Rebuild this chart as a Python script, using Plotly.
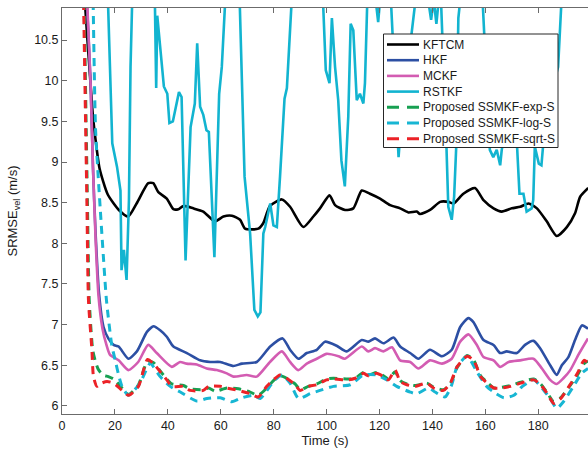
import plotly.graph_objects as go

# ---- KFTCM ----
t_kftcm = [8.0, 8.8, 10.5, 11.6, 12.7, 14.2, 17.3, 21.5, 25.0, 28.2, 32.6, 34.5, 36.4, 39.6,
           42.1, 44.0, 45.9, 49.6, 53.4, 57.8, 61.0, 64.2, 67.3, 69.2, 74.2, 76.1, 78.6, 83.1,
           86.2, 91.2, 95.0, 97.5, 101.1, 103.2, 107.0, 110.1, 113.3, 116.4, 120.2, 124.0,
           127.8, 130.9, 134.1, 135.3, 139.1, 142.9, 146.1, 148.0, 151.7, 156.1, 159.3, 163.1,
           166.2, 170.0, 173.2, 176.3, 179.5, 183.2, 187.0, 190.8, 193.9, 195.8, 198.9]
v_kftcm = [11.6, 10.9, 10.1, 9.6, 9.27, 8.92, 8.60, 8.41, 8.33, 8.49, 8.74, 8.74, 8.63, 8.55,
           8.42, 8.42, 8.46, 8.43, 8.39, 8.27, 8.33, 8.34, 8.29, 8.18, 8.18, 8.25, 8.46, 8.54,
           8.45, 8.20, 8.33, 8.43, 8.59, 8.47, 8.41, 8.43, 8.65, 8.61, 8.55, 8.47,
           8.43, 8.38, 8.39, 8.36, 8.41, 8.51, 8.51, 8.49, 8.61, 8.68, 8.53, 8.43,
           8.39, 8.43, 8.45, 8.49, 8.43, 8.27, 8.09, 8.20, 8.37, 8.57, 8.68]

# ---- HKF ----
t_hkf = [8.5, 9.5, 10.8, 11.7, 12.7, 14.0, 15.7, 17.5, 19.5, 21.4, 25.1, 28.3, 32.1, 34.6,
         37.1, 39.6, 42.1, 47.2, 52.2, 56.0, 59.8, 64.8, 68.0, 73.6, 78.7, 83.4, 86.2, 89.4,
         92.5, 96.3, 99.4, 103.8, 107.6, 113.3, 115.8, 118.3, 121.5, 125.3, 127.8, 131.6,
         134.7, 139.1, 143.6, 147.3, 150.5, 153.6, 155.5, 159.3, 163.1, 165.6, 168.1, 171.9,
         175.0, 178.2, 180.7, 184.5, 187.0, 188.9, 191.4, 193.9, 196.5, 198.8]
v_hkf = [11.8, 10.9, 9.97, 8.94, 8.12, 7.38, 6.97, 6.83, 6.75, 6.73, 6.58, 6.67, 6.91, 6.98,
         6.93, 6.85, 6.73, 6.65, 6.56, 6.54, 6.54, 6.49, 6.52, 6.54, 6.73, 6.83, 6.69, 6.58,
         6.65, 6.69, 6.79, 6.74, 6.67, 6.81, 6.79, 6.83, 6.77, 6.84, 6.73, 6.65,
         6.58, 6.69, 6.61, 6.69, 6.97, 7.08, 7.03, 6.81, 6.75, 6.65, 6.67, 6.65,
         6.75, 6.80, 6.71, 6.50, 6.38, 6.50, 6.60, 6.81, 6.99, 6.95]

# ---- MCKF ----
t_mckf = [8.5, 9.6, 10.8, 11.7, 12.7, 13.8, 15.3, 16.8, 18.1, 21.4, 25.1, 28.8, 32.6, 35.8,
          41.5, 44.6, 47.1, 50.9, 54.7, 58.5, 62.3, 64.8, 69.8, 73.6, 78.6, 83.1, 86.2, 89.3,
          92.5, 96.3, 100.0, 104.5, 106.9, 113.3, 115.8, 118.3, 121.5, 124.7, 127.8, 131.6,
          134.7, 139.1, 143.6, 147.3, 150.5, 153.6, 156.8, 159.3, 163.1, 165.6, 168.8, 173.2,
          178.2, 181.4, 184.5, 187.0, 189.5, 192.1, 195.2, 198.8]
v_mckf = [11.8, 10.9, 9.97, 8.94, 8.05, 7.35, 6.95, 6.75, 6.63, 6.56, 6.44, 6.54, 6.75, 6.65,
          6.48, 6.54, 6.52, 6.51, 6.46, 6.44, 6.40, 6.36, 6.38, 6.36, 6.54, 6.67, 6.54, 6.44,
          6.52, 6.58, 6.64, 6.61, 6.58, 6.73, 6.67, 6.71, 6.67, 6.72, 6.56, 6.54,
          6.46, 6.56, 6.52, 6.58, 6.79, 6.88, 6.75, 6.60, 6.56, 6.48, 6.54, 6.56,
          6.58, 6.46, 6.32, 6.27, 6.34, 6.44, 6.63, 6.83]

# ---- RSTKF ----
t_rstkf = [16.8, 19.0, 20.8, 22.1, 22.5, 23.4, 24.4, 25.3, 25.9, 27.0, 29.0, 32.0, 35.0, 35.6,
           36.0, 38.5, 39.8, 40.6, 41.9, 44.2, 45.2, 46.7, 48.6, 50.2, 51.1, 52.2, 53.4, 54.6,
           55.5, 57.6, 59.4, 60.4, 62.5, 64.0, 66.8, 69.0, 71.1, 72.7, 74.0, 75.0, 76.1, 76.8,
           78.7, 79.9, 81.2, 82.4, 84.1, 85.0, 87.5, 90.0, 95.0, 98.5, 99.7, 101.1, 102.0,
           103.2, 104.4, 105.6, 106.9, 108.2, 109.1, 110.1, 111.4, 112.6, 113.9, 114.5, 115.4,
           117.5, 119.5, 121.0, 124.0, 127.2, 128.2, 134.0, 137.0, 139.5, 140.5, 141.5, 143.0,
           145.3, 146.0, 147.3, 148.2, 149.0, 149.8, 151.5, 155.0, 158.5, 161.7, 163.0, 164.3,
           165.6, 166.2, 169.0, 172.0, 172.9, 174.4, 175.6, 177.5, 178.1, 178.7, 180.2, 181.2,
           181.8, 184.5, 187.5, 188.8, 192.0, 199.0]
v_rstkf = [11.6, 9.23, 8.94, 8.65, 7.67, 7.92, 7.55, 8.53, 10.17, 11.6, 11.8, 11.5, 11.2, 9.91,
           10.8, 9.93, 9.84, 9.48, 9.50, 9.86, 9.80, 7.79, 9.43, 9.72, 10.46, 9.68, 9.58, 9.39,
           9.37, 7.83, 9.84, 10.17, 11.5, 11.6, 11.4, 8.82, 8.12, 7.18, 7.10, 7.15, 8.12, 8.20,
           8.49, 8.22, 8.20, 8.82, 9.78, 9.91, 11.4, 11.6, 11.4, 11.1, 10.13, 9.97, 10.77,
           10.17, 9.76, 9.02, 8.70, 9.56, 10.70, 10.62, 9.76, 9.84, 9.72, 9.97, 11.0,
           11.3, 10.72, 11.3, 11.2, 9.06, 9.5, 11.1, 11.3, 10.75, 11.0, 10.7, 11.2,
           9.19, 8.45, 8.29, 8.57, 9.19, 10.77, 11.3, 11.6, 11.3, 9.15, 9.06, 9.15,
           8.96, 9.15, 9.6, 9.19, 8.61, 8.61, 8.39, 8.43, 8.53, 9.19, 8.98, 8.96,
           9.19, 9.8, 10.17, 11.0, 11.5, 11.8]

# ---- Proposed SSMKF-exp-S ----
t_exp = [7.9, 8.4, 9.6, 10.3, 11.6, 12.6, 13.7, 15.5, 17.5, 19.5, 22.7, 25.2, 28.9, 32.3,
         34.6, 37.1, 39.6, 41.5, 45.9, 48.4, 53.4, 55.4, 57.9, 62.3, 66.7, 71.1, 74.2, 77.4,
         79.9, 82.4, 84.9, 88.1, 90.0, 93.1, 96.3, 100.0, 102.6, 108.2, 110.8, 113.9, 115.8,
         118.9, 121.5, 123.4, 125.9, 127.8, 130.3, 133.5, 137.9, 140.4, 144.2, 146.8, 149.3,
         153.1, 155.6, 158.2, 160.7, 163.2, 166.4, 169.5, 173.3, 178.3, 180.9, 183.4, 185.9,
         188.5, 191.6, 194.8, 197.3, 198.8]
v_exp = [12.0, 10.9, 8.53, 7.30, 6.69, 6.55, 6.45, 6.38, 6.36, 6.33, 6.22, 6.14, 6.26, 6.55,
         6.53, 6.43, 6.33, 6.27, 6.25, 6.21, 6.20, 6.22, 6.18, 6.22, 6.21, 6.17, 6.13, 6.22,
         6.31, 6.37, 6.34, 6.27, 6.20, 6.24, 6.27, 6.33, 6.34, 6.33, 6.34, 6.41, 6.38,
         6.41, 6.37, 6.33, 6.42, 6.31, 6.27, 6.25, 6.28, 6.23, 6.20, 6.27, 6.47,
         6.62, 6.56, 6.37, 6.29, 6.22, 6.23, 6.25, 6.29, 6.33, 6.27, 6.16, 6.05,
         6.10, 6.23, 6.38, 6.52, 6.55]

# ---- Proposed SSMKF-log-S ----
t_log = [11.3, 11.8, 12.7, 14.5, 15.9, 16.8, 18.8, 20.2, 21.4, 22.7, 25.1, 29.5, 33.3, 37.1,
         40.9, 44.7, 51.0, 54.8, 59.8, 64.2, 68.0, 72.4, 74.9, 79.9, 83.1, 86.2, 89.4, 93.8,
         97.5, 102.6, 109.0, 113.9, 118.9, 122.8, 126.5, 131.6, 134.1, 138.6, 141.0, 144.8,
         147.3, 149.3, 153.1, 156.8, 160.5, 163.2, 167.0, 170.8, 174.0, 178.3, 181.4, 184.5,
         187.0, 189.5, 193.3, 196.4, 198.8]
v_log = [12.0, 10.9, 9.39, 8.40, 7.71, 7.30, 6.75, 6.55, 6.38, 6.24, 6.13, 6.28, 6.52, 6.36,
         6.24, 6.17, 6.06, 6.09, 6.10, 6.05, 6.10, 6.13, 6.09, 6.30, 6.38, 6.28, 6.09, 6.15,
         6.19, 6.24, 6.26, 6.38, 6.38, 6.32, 6.24, 6.17, 6.15, 6.22, 6.17, 6.11,
         6.26, 6.48, 6.61, 6.42, 6.24, 6.17, 6.10, 6.13, 6.24, 6.32, 6.22, 6.09,
         5.97, 6.05, 6.24, 6.40, 6.46]

# ---- Proposed SSMKF-sqrt-S ----
t_sqrt = [7.8, 8.2, 9.4, 10.0, 11.3, 11.9, 13.2, 15.0, 17.0, 19.5, 22.7, 25.2, 28.9, 32.3,
          34.6, 37.1, 39.6, 41.5, 45.9, 48.4, 53.4, 55.4, 59.8, 62.3, 66.7, 71.1, 74.2, 77.4,
          79.9, 82.4, 84.9, 88.1, 90.0, 93.1, 96.3, 100.0, 102.6, 108.2, 110.8, 113.9, 115.8,
          118.9, 121.5, 123.4, 125.9, 127.8, 130.3, 133.5, 137.9, 140.4, 144.2, 146.8, 149.3,
          153.1, 155.6, 158.2, 160.7, 163.2, 166.4, 169.5, 173.3, 178.3, 180.9, 183.4, 185.9,
          188.5, 191.6, 194.8, 197.3, 198.8]
v_sqrt = [12.0, 10.9, 8.53, 7.30, 6.69, 6.36, 6.24, 6.28, 6.30, 6.28, 6.19, 6.13, 6.24, 6.57,
          6.52, 6.42, 6.32, 6.24, 6.24, 6.19, 6.19, 6.24, 6.24, 6.22, 6.19, 6.15, 6.11, 6.24,
          6.32, 6.38, 6.34, 6.26, 6.19, 6.24, 6.26, 6.32, 6.33, 6.32, 6.34, 6.40, 6.37,
          6.40, 6.36, 6.32, 6.44, 6.30, 6.26, 6.24, 6.28, 6.22, 6.19, 6.28, 6.48,
          6.61, 6.56, 6.36, 6.28, 6.22, 6.22, 6.24, 6.28, 6.32, 6.26, 6.15, 6.03,
          6.09, 6.24, 6.40, 6.56, 6.53]

x_ticks = [0, 20, 40, 60, 80, 100, 120, 140, 160, 180]
y_ticks = [6, 6.5, 7, 7.5, 8, 8.5, 9, 9.5, 10, 10.5]
y_tick_text = ["6", "6.5", "7", "7.5", "8", "8.5", "9", "9.5", "10", "10.5"]

FONT = "Liberation Sans, Arial, sans-serif"
AXIS_GREY = "#6b6b6b"
TEXT = "#1a1a1a"

series = [
    ("KFTCM", t_kftcm, v_kftcm, "#000000", "solid", 2.6, "spline"),
    ("HKF", t_hkf, v_hkf, "#2c4fa3", "solid", 2.6, "spline"),
    ("MCKF", t_mckf, v_mckf, "#d35cb2", "solid", 2.6, "spline"),
    ("RSTKF", t_rstkf, v_rstkf, "#12b4d0", "solid", 2.6, "linear"),
    ("Proposed SSMKF-exp-S", t_exp, v_exp, "#17a052", "8px,6px", 3, "spline"),
    ("Proposed SSMKF-log-S", t_log, v_log, "#17b6d3", "8px,6px", 3, "spline"),
    ("Proposed SSMKF-sqrt-S", t_sqrt, v_sqrt, "#ec2227", "8px,6px", 3, "spline"),
]

fig = go.Figure()
for name, t, v, color, dash, width, shape in series:
    line = dict(color=color, width=width, dash=dash, shape=shape)
    if shape == "spline":
        line["smoothing"] = 0.6
    fig.add_trace(go.Scatter(x=t, y=v, mode="lines", name=name, line=line, showlegend=False))

# Compact boxed legend in the upper right of the axes (paper coordinates)
W, H, L, B = 526.0, 406.0, 62.0, 40.0
def px_x(px):
    return (px - L) / W
def px_y(py):
    return (454.0 - B - py) / H

box_l, box_r, box_t, box_b = 383.5, 558.0, 34.0, 147.5
row0, row_step = 44.5, 15.7
shapes = [dict(type="rect", xref="paper", yref="paper",
               x0=px_x(box_l), x1=px_x(box_r), y0=px_y(box_b), y1=px_y(box_t),
               line=dict(color="#262626", width=1), fillcolor="white", layer="above")]
annotations = []
for i, (name, t, v, color, dash, width, shape) in enumerate(series):
    yc = px_y(row0 + i * row_step)
    shapes.append(dict(type="line", xref="paper", yref="paper",
                       x0=px_x(387), x1=px_x(419), y0=yc, y1=yc, layer="above",
                       line=dict(color=color, width=width,
                                 dash="solid" if dash == "solid" else "12px,8px")))
    annotations.append(dict(xref="paper", yref="paper", x=px_x(421), y=yc,
                            xanchor="left", yanchor="middle", showarrow=False,
                            text=name, font=dict(family=FONT, size=12, color=TEXT)))

fig.update_layout(
    width=588,
    height=454,
    margin=dict(l=62, r=0, t=8, b=40),
    paper_bgcolor="white",
    plot_bgcolor="white",
    font=dict(family=FONT, size=13, color=TEXT),
    showlegend=False,
    shapes=shapes,
    annotations=annotations,
    xaxis=dict(
        range=[0, 198.8],
        tickvals=x_ticks,
        ticks="inside", ticklen=5, tickcolor=AXIS_GREY,
        showline=True, linecolor=AXIS_GREY, linewidth=1, mirror="ticks",
        showgrid=False, zeroline=False,
        tickfont=dict(family=FONT, size=12.5, color=TEXT),
        title=dict(text="Time (s)", font=dict(family=FONT, size=13, color=TEXT), standoff=3),
    ),
    yaxis=dict(
        range=[5.9, 10.895],
        tickvals=y_ticks, ticktext=y_tick_text,
        ticks="inside", ticklen=5, tickcolor=AXIS_GREY,
        showline=True, linecolor=AXIS_GREY, linewidth=1, mirror=False,
        showgrid=False, zeroline=False,
        tickfont=dict(family=FONT, size=12.5, color=TEXT),
        title=dict(text="SRMSE<sub>vel</sub> (m/s)", font=dict(family=FONT, size=13, color=TEXT), standoff=13),
    ),
)

fig.write_html("out.html")
